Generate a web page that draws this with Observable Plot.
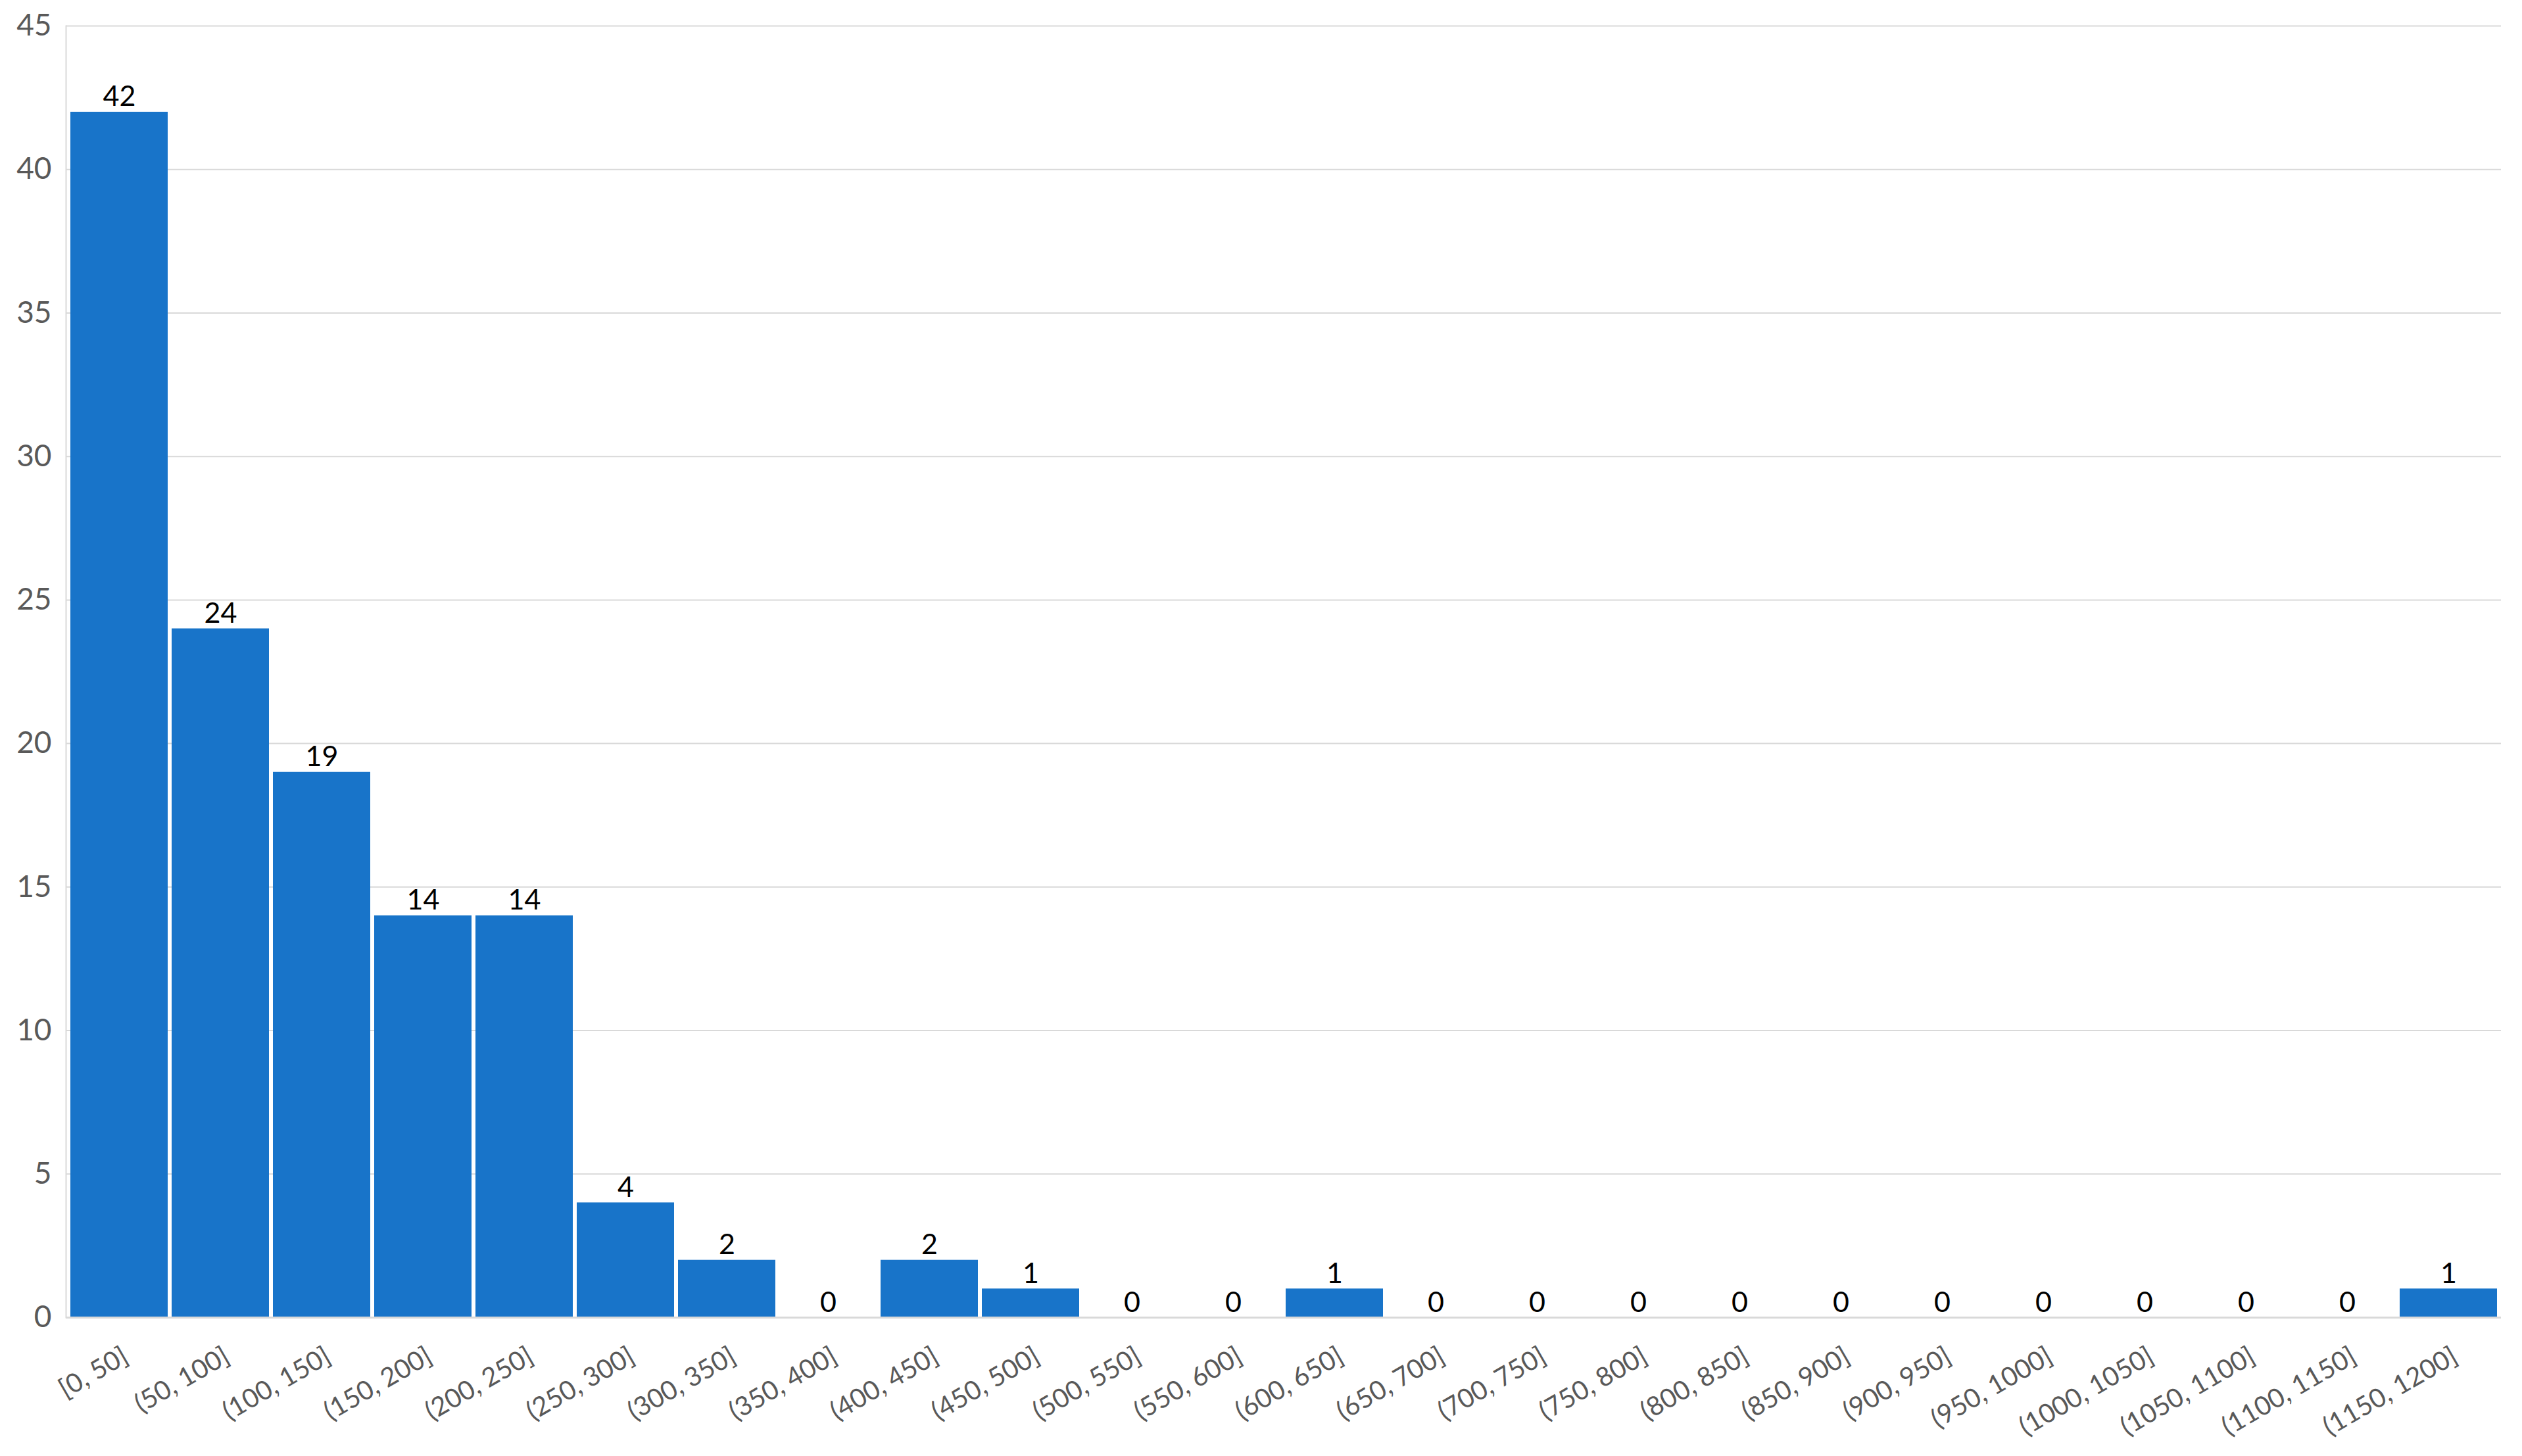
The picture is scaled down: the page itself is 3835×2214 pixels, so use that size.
<!DOCTYPE html>
<html>
<head>
<meta charset="utf-8">
<script src="https://cdn.jsdelivr.net/npm/d3@7"></script>
<script src="https://cdn.jsdelivr.net/npm/@observablehq/plot@0.6"></script>
<style>
  html, body { margin: 0; padding: 0; background: #ffffff; }
  #chart { width: 3835px; height: 2214px; }
</style>
</head>
<body>
<div id="chart"></div>
<script>
const categories = [
  "[0, 50]", "(50, 100]", "(100, 150]", "(150, 200]", "(200, 250]", "(250, 300]",
  "(300, 350]", "(350, 400]", "(400, 450]", "(450, 500]", "(500, 550]", "(550, 600]",
  "(600, 650]", "(650, 700]", "(700, 750]", "(750, 800]", "(800, 850]", "(850, 900]",
  "(900, 950]", "(950, 1000]", "(1000, 1050]", "(1050, 1100]", "(1100, 1150]", "(1150, 1200]"
];
const counts = [42, 24, 19, 14, 14, 4, 2, 0, 2, 1, 0, 0, 1, 0, 0, 0, 0, 0, 0, 0, 0, 0, 0, 1];
const yTicks = [0, 5, 10, 15, 20, 25, 30, 35, 40, 45];

const data = categories.map((c, i) => ({bin: c, count: counts[i]}));

const chart = Plot.plot({
  width: 3835,
  height: 2214,
  marginLeft: 100,
  marginRight: 32,
  marginTop: 39,
  marginBottom: 211,
  style: {fontFamily: "Lato, 'Noto Sans', sans-serif", background: "#ffffff"},
  x: {domain: categories, padding: 0, label: null, axis: null},
  y: {domain: [0, 45], label: null},
  marks: [
    Plot.gridY(yTicks, {stroke: "#d9d9d9", strokeOpacity: 1, strokeWidth: 2}),
    Plot.frame({anchor: "left", stroke: "#d9d9d9", strokeWidth: 2}),
    Plot.barY(data, {x: "bin", y: "count", fill: "#1874c9", insetLeft: 3, insetRight: 3}),
    Plot.ruleY([0], {stroke: "#d9d9d9", strokeWidth: 3}),
    Plot.text(data, {x: "bin", y: "count", text: d => String(d.count), lineAnchor: "bottom", dy: -9, fontSize: 43, fill: "#000000"}),
    Plot.axisY(yTicks, {tickSize: 0, tickPadding: 22, fontSize: 46, color: "#595959"}),
    Plot.text(categories, {x: d => d, frameAnchor: "bottom", text: d => d, rotate: -30, textAnchor: "end", lineAnchor: "top", dy: 42, dx: 2, fontSize: 40, fill: "#595959"})
  ]
});
document.getElementById("chart").appendChild(chart);
</script>
</body>
</html>
